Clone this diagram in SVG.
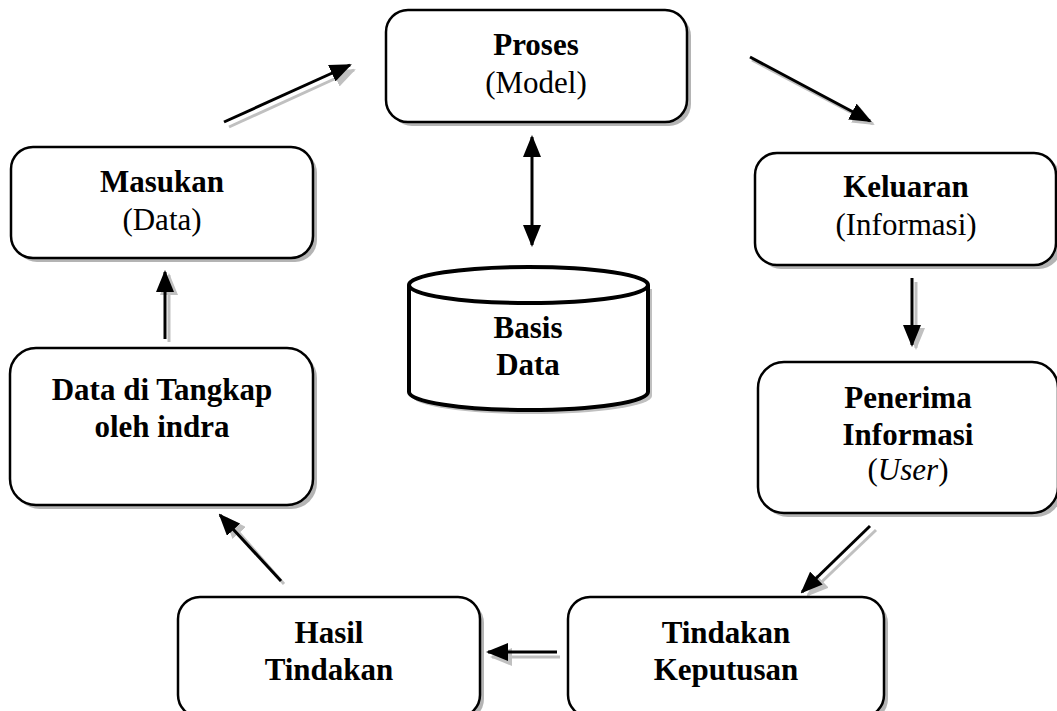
<svg xmlns="http://www.w3.org/2000/svg" width="1057" height="711" viewBox="0 0 1057 711">
  <style>
    .box { fill: #ffffff; stroke: #000000; stroke-width: 2.5; }
    .shadow { fill: #b4b4b4; stroke: none; }
    .t { font-family: "Liberation Serif", "Times New Roman", serif; font-size: 31px; text-anchor: middle; fill: #000000; }
    .b { font-weight: bold; }
    .edge { stroke: #000000; stroke-width: 3; fill: none; marker-end: url(#head); }
    .edge-sh { stroke: #c0c0c0; stroke-width: 3; fill: none; marker-end: url(#head-sh); }
  </style>
  <defs>
    <marker id="head" markerUnits="userSpaceOnUse" markerWidth="22" markerHeight="18" refX="20" refY="9" orient="auto">
      <path d="M0,0 L22,9 L0,18 Z" fill="#000000"/>
    </marker>
    <marker id="head-sh" markerUnits="userSpaceOnUse" markerWidth="22" markerHeight="18" refX="20" refY="9" orient="auto">
      <path d="M0,0 L22,9 L0,18 Z" fill="#c0c0c0"/>
    </marker>
    <marker id="tail" markerUnits="userSpaceOnUse" markerWidth="22" markerHeight="18" refX="2" refY="9" orient="auto">
      <path d="M22,0 L0,9 L22,18 Z" fill="#000000"/>
    </marker>
  </defs>

  <!-- connectors -->
  <g id="connectors">
    <!-- Masukan -> Proses -->
    <line class="edge-sh" x1="229" y1="127" x2="354" y2="70"/>
    <line class="edge" x1="224" y1="122" x2="350" y2="65"/>
    <!-- Proses -> Keluaran -->
    <line class="edge-sh" x1="752" y1="60" x2="873" y2="124"/>
    <line class="edge" x1="750" y1="57" x2="870" y2="121"/>
    <!-- Proses <-> Basis Data -->
    <line x1="532" y1="137" x2="532" y2="245" stroke="#000" stroke-width="3" marker-start="url(#tail)" marker-end="url(#head)"/>
    <!-- Keluaran -> Penerima -->
    <line class="edge-sh" x1="916" y1="282" x2="916" y2="348"/>
    <line class="edge" x1="912" y1="278" x2="912" y2="345"/>
    <!-- Penerima -> Tindakan Keputusan -->
    <line class="edge-sh" x1="876" y1="530" x2="808" y2="595"/>
    <line class="edge" x1="870" y1="526" x2="802" y2="592"/>
    <!-- Tindakan Keputusan -> Hasil Tindakan -->
    <line class="edge-sh" x1="560" y1="657" x2="492" y2="657"/>
    <line class="edge" x1="557" y1="652" x2="488" y2="652"/>
    <!-- Hasil Tindakan -> Data di Tangkap -->
    <line class="edge-sh" x1="284" y1="584" x2="226" y2="518"/>
    <line class="edge" x1="281" y1="581" x2="220" y2="515"/>
    <!-- Data di Tangkap -> Masukan -->
    <line class="edge-sh" x1="169" y1="342" x2="169" y2="275"/>
    <line class="edge" x1="165" y1="339" x2="165" y2="272"/>
  </g>

  <!-- Proses (Model) -->
  <g id="proses">
    <rect class="shadow" x="390" y="14" width="301" height="112" rx="22"/>
    <rect class="box" x="386" y="10" width="301" height="112" rx="22"/>
    <text class="t b" x="536" y="55">Proses</text>
    <text class="t" x="536" y="93">(Model)</text>
  </g>

  <!-- Masukan (Data) -->
  <g id="masukan">
    <rect class="shadow" x="15" y="151" width="302" height="111" rx="22"/>
    <rect class="box" x="11" y="147" width="302" height="111" rx="22"/>
    <text class="t b" x="162" y="192">Masukan</text>
    <text class="t" x="162" y="230">(Data)</text>
  </g>

  <!-- Keluaran (Informasi) -->
  <g id="keluaran">
    <rect class="shadow" x="759" y="157" width="302" height="112" rx="22"/>
    <rect class="box" x="755" y="153" width="301" height="112" rx="22"/>
    <text class="t b" x="906" y="197">Keluaran</text>
    <text class="t" x="906" y="235">(Informasi)</text>
  </g>

  <!-- Basis Data -->
  <g id="basis-data">
    <path d="M412,289 L412,396 A120,18 0 0 0 652,396 L652,289" fill="#c0c0c0" stroke="none"/>
    <path d="M409,285 L409,392 A119.5,18 0 0 0 648,392 L648,285" fill="#ffffff" stroke="#000" stroke-width="4"/>
    <ellipse cx="528.5" cy="285" rx="119.5" ry="18" fill="#ffffff" stroke="#000" stroke-width="4"/>
    <text class="t b" x="528" y="338">Basis</text>
    <text class="t b" x="528" y="375">Data</text>
  </g>

  <!-- Data di Tangkap oleh indra -->
  <g id="data-tangkap">
    <rect class="shadow" x="14" y="352" width="303" height="157" rx="26"/>
    <rect class="box" x="10" y="348" width="303" height="157" rx="26"/>
    <text class="t b" x="162" y="400">Data di Tangkap</text>
    <text class="t b" x="162" y="437">oleh indra</text>
  </g>

  <!-- Penerima Informasi (User) -->
  <g id="penerima">
    <rect class="shadow" x="762" y="366" width="300" height="151" rx="26"/>
    <rect class="box" x="758" y="362" width="300" height="151" rx="26"/>
    <text class="t b" x="908" y="408">Penerima</text>
    <text class="t b" x="908" y="445">Informasi</text>
    <text class="t" x="908" y="480">(<tspan font-style="italic">User</tspan>)</text>
  </g>

  <!-- Hasil Tindakan -->
  <g id="hasil-tindakan">
    <rect class="shadow" x="182" y="601" width="302" height="120" rx="22"/>
    <rect class="box" x="178" y="597" width="302" height="120" rx="22"/>
    <text class="t b" x="329" y="643">Hasil</text>
    <text class="t b" x="329" y="680">Tindakan</text>
  </g>

  <!-- Tindakan Keputusan -->
  <g id="tindakan-keputusan">
    <rect class="shadow" x="572" y="601" width="316" height="120" rx="22"/>
    <rect class="box" x="568" y="597" width="316" height="120" rx="22"/>
    <text class="t b" x="726" y="643">Tindakan</text>
    <text class="t b" x="726" y="680">Keputusan</text>
  </g>
</svg>
